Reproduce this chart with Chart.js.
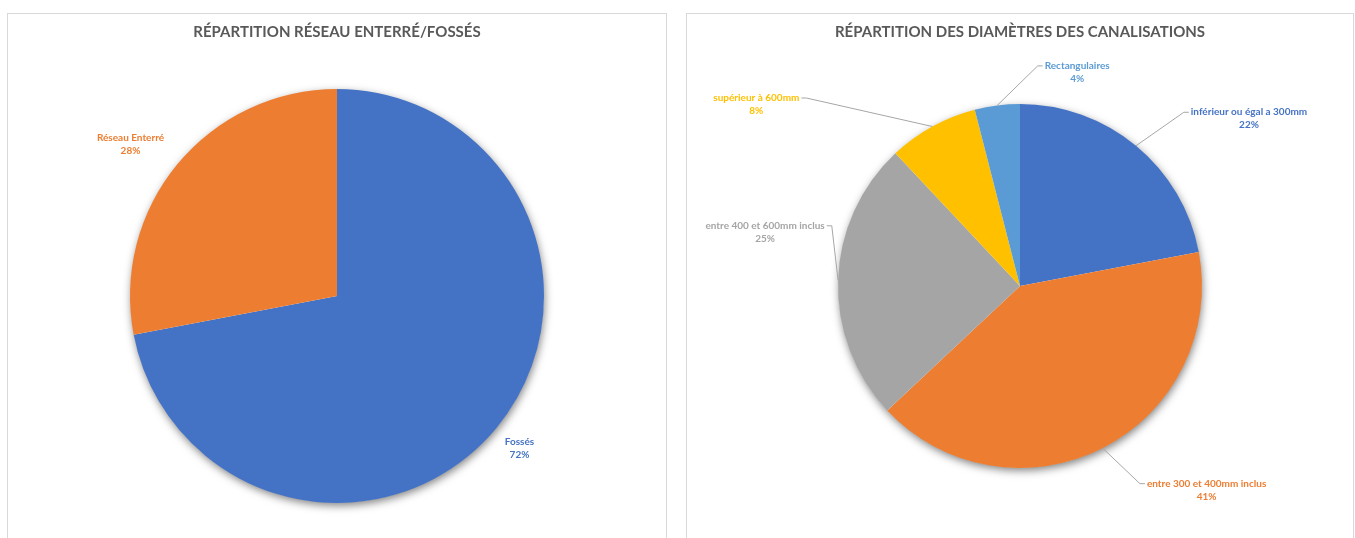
<!DOCTYPE html>
<html lang="fr">
<head>
<meta charset="utf-8">
<script src="https://cdn.jsdelivr.net/npm/chart.js@4"></script>
<style>
  html, body { margin: 0; padding: 0; background: #fff; overflow: hidden; }
  body { width: 1355px; height: 538px; position: relative; }
  .panel { position: absolute; top: 13px; height: 560px; border: 1px solid #d9d9d9; background: #fff; }
  #p1 { left: 7px; width: 658px; }
  #p2 { left: 686px; width: 666px; }
</style>
</head>
<body>
<div class="panel" id="p1"><canvas id="reseauChart"></canvas></div>
<div class="panel" id="p2"><canvas id="diametreChart"></canvas></div>
<script>
const FONT = 'Lato, "Open Sans", sans-serif';

// réseau enterré / fossés
const reseauLabels = ['Fossés', 'Réseau Enterré'];
const reseauValues = [72, 28];
const reseauColors = ['#4472C4', '#ED7D31'];

// diamètres des canalisations
const diametreLabels = [
  'inférieur ou égal a 300mm',
  'entre 300 et 400mm inclus',
  'entre 400 et 600mm inclus',
  'supérieur à 600mm',
  'Rectangulaires',
];
const diametreValues = [22, 41, 25, 8, 4];
const diametreColors = ['#4472C4', '#ED7D31', '#A5A5A5', '#FFC000', '#5B9BD5'];

// soft drop shadow under the whole pie
const pieShadow = {
  id: 'pieShadow',
  beforeDatasetsDraw(chart) {
    const arc = chart.getDatasetMeta(0).data[0];
    if (!arc) return;
    const { ctx } = chart;
    ctx.save();
    ctx.shadowColor = 'rgba(0,0,0,0.5)';
    ctx.shadowBlur = 8;
    ctx.shadowOffsetX = 1;
    ctx.shadowOffsetY = 3;
    ctx.fillStyle = '#fff';
    ctx.beginPath();
    ctx.arc(arc.x, arc.y, arc.outerRadius - 0.5, 0, Math.PI * 2);
    ctx.fill();
    ctx.restore();
  },
};

// name + percentage next to each slice, with optional leader line
const sliceLabels = {
  id: 'sliceLabels',
  afterDatasetsDraw(chart, args, opts) {
    const { ctx } = chart;
    const ds = chart.data.datasets[0];
    const total = ds.data.reduce((a, b) => a + b, 0);
    const lh = 13;
    ctx.save();
    ctx.font = 'bold 10px ' + FONT;
    ctx.textAlign = 'center';
    ctx.textBaseline = 'middle';
    chart.getDatasetMeta(0).data.forEach((arc, i) => {
      const mid = (arc.startAngle + arc.endAngle) / 2;
      const ex = arc.x + Math.cos(mid) * arc.outerRadius;
      const ey = arc.y + Math.sin(mid) * arc.outerRadius;
      const [dx, dy] = opts.offsets[i];
      const cx = ex + dx, cy = ey + dy;
      const name = chart.data.labels[i];
      const pct = Math.round(ds.data[i] / total * 100) + '%';
      const y1 = cy - lh / 2, y2 = cy + lh / 2;
      if (opts.leader) {
        const w = ctx.measureText(name).width;
        const right = dx > 0;
        const side = right ? cx - w / 2 - 2 : cx + w / 2 + 2;
        const elbow = right ? side - 5 : side + 5;
        ctx.strokeStyle = '#A6A6A6';
        ctx.lineWidth = 1;
        ctx.beginPath();
        ctx.moveTo(ex, ey);
        ctx.lineTo(elbow, y1);
        ctx.lineTo(side, y1);
        ctx.stroke();
      }
      ctx.fillStyle = ds.backgroundColor[i];
      ctx.fillText(name, cx, y1);
      ctx.fillText(pct, cx, y2);
    });
    ctx.restore();
  },
};

function pieChart(id, labels, values, colors, radius, padBottom, offsets, leader, title) {
  return new Chart(document.getElementById(id), {
    type: 'pie',
    data: {
      labels,
      datasets: [{ data: values, backgroundColor: colors, borderWidth: 0, hoverOffset: 0 }],
    },
    options: {
      responsive: true, maintainAspectRatio: false, animation: false,
      radius,
      layout: { padding: { top: 0, bottom: padBottom, left: 0, right: 0 } },
      plugins: {
        legend: { display: false },
        tooltip: { enabled: false },
        title: {
          display: true, text: title, color: '#595959',
          font: { family: FONT, size: 15, weight: 'bold', lineHeight: 1.2 },
          padding: { top: 9, bottom: 0 },
        },
        sliceLabels: { offsets, leader },
      },
    },
    plugins: [pieShadow, sliceLabels],
  });
}

pieChart('reseauChart', reseauLabels, reseauValues, reseauColors, 207, 23,
  [[23, 20], [-47, -20]], false, 'RÉPARTITION RÉSEAU ENTERRÉ/FOSSÉS');

pieChart('diametreChart', diametreLabels, diametreValues, diametreColors, 182, 43,
  [[113, -27], [104, 42], [-73, -48], [-176, -22], [80, -33]], true,
  'RÉPARTITION DES DIAMÈTRES DES CANALISATIONS');
</script>
</body>
</html>
